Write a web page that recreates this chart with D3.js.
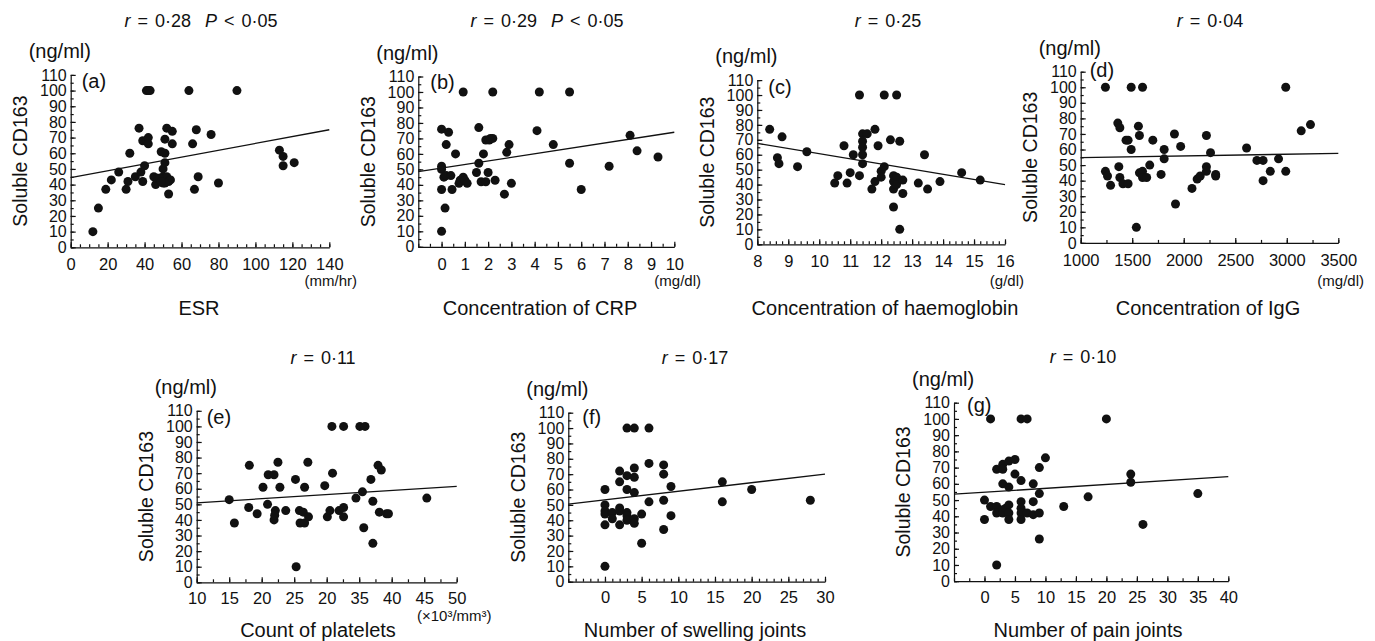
<!DOCTYPE html>
<html>
<head>
<meta charset="utf-8">
<script src="https://cdn.jsdelivr.net/npm/d3@7"></script>
<style>
  body { margin: 0; background: #fff; }
  svg { display: block; }
</style>
</head>
<body>
<svg id="chart" width="1375" height="641"></svg>
<script>
// Soluble CD163 (ng/ml) against clinical values, one scatter per panel

const esrX = [12,15,19,22,26,30,31,32,35,37,38,39,39,40,41,42,42,41,42,43,45,46,47,49,50,50,50,51,51,51,52,52,53,53,54,55,55,64,66,67,68,69,76,80,90,113,115,115,121,48,51,49];
const esrY = [10,25,37,43,48,37,42,60,45,76,48,68,42,52,68,70,66,100,100,100,45,40,44,61,50,45,41,69,60,54,45,76,42,34,43,74,66,100,66,37,75,45,72,41,100,62,58,52,54,44,41,42];

const crpX = [0,0,0,0,0,0.1,0.15,0.2,0.3,0.2,0.4,0.45,0.6,0.75,0.8,0.93,0.93,1.0,1.1,1.5,1.6,1.6,1.7,1.8,1.9,1.9,2.0,2.05,2.1,2.2,2.2,2.3,2.7,2.8,2.9,3.0,4.1,4.2,4.8,5.5,5.5,6.0,7.2,8.1,8.4,9.3];
const crpY = [10,52,50,37,76,45,25,66,74,46,46,37,60,41,43,100,45,43,41,48,54,77,42,60,42,69,48,69,70,70,100,43,34,61,66,41,75,100,66,100,54,37,52,72,62,58];

const hbX = [8.4,8.65,8.7,8.8,9.3,9.6,10.5,10.6,10.8,10.9,11.0,11.1,11.3,11.3,11.4,11.4,11.4,11.4,11.4,11.55,11.7,11.8,11.8,11.9,12.0,12.0,12.1,12.1,12.3,12.4,12.4,12.4,12.4,12.5,12.5,12.5,12.6,12.6,12.7,12.7,13.2,13.4,13.5,13.9,14.6,15.2];
const hbY = [77,58,54,72,52,62,41,46,66,41,48,60,100,46,74,69,65,60,54,74,37,77,42,66,49,45,52,100,70,46,42,37,25,100,45,40,69,10,34,43,41,60,37,42,48,43];

const iggX = [1240,1240,1260,1290,1360,1370,1380,1380,1410,1440,1460,1460,1490,1490,1560,1570,1570,1540,1600,1600,1600,1640,1670,1700,1780,1810,1810,1910,1920,1970,2080,2130,2160,2220,2220,2220,2260,2310,2310,2610,2710,2770,2770,2840,2920,2990,2990,3140,3230];
const iggY = [100,46,43,37,77,49,74,42,38,66,66,38,100,60,75,69,45,10,100,46,42,42,50,66,44,60,54,70,25,62,35,41,43,69,49,46,58,44,43,61,53,53,40,46,54,100,46,72,76];

const pltX = [15,15.8,18.1,18,19.3,20.2,20.9,21,21.9,22.1,21.9,22,22.5,22.8,23.7,25.2,25.8,25.9,26.4,26.6,26.6,27.1,27.2,29.7,30.1,30.5,30.9,31.9,32.6,32.6,34.5,35.5,35.7,36.8,37.1,37.9,38.4,38.1,39.2,39.5,45.4,30.8,32.6,35.1,35.9,25.3,37.1];
const pltY = [53,38,75,48,44,61,50,69,69,46,40,43,77,61,46,66,46,38,45,61,38,77,42,62,42,46,70,46,48,42,54,58,35,66,52,75,72,45,44,44,54,100,100,100,100,10,25];

const swX = [0,0,0,0,0,0,1,1,2,2,2,2,2,3,3,3,3,3,3,4,4,4,4,4,4,5,5,6,6,6,8,8,8,8,9,9,16,16,20,28];
const swY = [10,60,50,46,44,37,45,41,72,65,48,46,37,100,69,60,45,43,40,100,74,68,58,41,38,44,25,100,77,52,76,70,53,34,62,43,65,52,60,53];

const painX = [0,0,1,1,2,2,2,2,3,3,3,3,3,3.5,4,4,4,4,4,5,5,6,6,6,6,6,6,7,7,8,8,8,9,9,9,9,10,13,17,20,24,24,26,35];
const painY = [50,38,100,46,69,46,42,10,72,69,60,44,42,45,74,58,47,42,38,75,66,100,62,49,45,42,38,100,42,60,49,41,70,54,42,26,76,46,52,100,66,61,35,54];

// regression line end points [x, y]
const esrFit = [[0,44.5],[140,75]];
const crpFit = [[-1,48.5],[10,74]];
const hbFit = [[8,67.6],[16,40]];
const iggFit = [[1000,54.8],[3500,57.5]];
const pltFit = [[10,51],[50,61.5]];
const swFit = [[-5,50.5],[30,70]];
const painFit = [[-5,53.6],[40,64.5]];

// tick labels
const yTicks = [0,10,20,30,40,50,60,70,80,90,100,110];
const esrTicks = [0,20,40,60,80,100,120,140];
const crpTicks = [0,1,2,3,4,5,6,7,8,9,10];
const hbTicks = [8,9,10,11,12,13,14,15,16];
const iggTicks = [1000,1500,2000,2500,3000,3500];
const pltTicks = [10,15,20,25,30,35,40,45,50];
const pltTickLabels = ["10","15","20","25","20","35","40","45","50"];
const swTicks = [0,5,10,15,20,25,30];
const painTicks = [0,5,10,15,20,25,30,35,40];

const letters = ["(a)","(b)","(c)","(d)","(e)","(f)","(g)"];
const rValues = ["0·28","0·29","0·25","0·04","0·11","0·17","0·10"];
const pValues = ["0·05","0·05",null,null,null,null,null];
const xTitles = ["ESR","Concentration of CRP","Concentration of haemoglobin","Concentration of IgG",
                 "Count of platelets","Number of swelling joints","Number of pain joints"];
const xUnits = ["(mm/hr)","(mg/dl)","(g/dl)","(mg/dl)","(×10³/mm³)",null,null];

const panels = [
  { x: esrX, y: esrY, fit: esrFit, ticks: esrTicks },
  { x: crpX, y: crpY, fit: crpFit, ticks: crpTicks },
  { x: hbX, y: hbY, fit: hbFit, ticks: hbTicks },
  { x: iggX, y: iggY, fit: iggFit, ticks: iggTicks },
  { x: pltX, y: pltY, fit: pltFit, ticks: pltTicks, labels: pltTickLabels },
  { x: swX, y: swY, fit: swFit, ticks: swTicks },
  { x: painX, y: painY, fit: painFit, ticks: painTicks }
];

// where each panel sits on the page
const layout = [
  { left: 70.7, right: 329.3, top: 74.9, bottom: 247.3, domain: [0,140], minor: 5,
    titleX: 201, titleY: 21, letterDx: 11, letterDy: 6, axisTitleX: 199, axisTitleY: 308, unitX: 357, unitY: 281, unitAnchor: "end" },
  { left: 418.3, right: 674.3, top: 76.5, bottom: 246.8, domain: [-1,10], minor: 0.5,
    titleX: 547, titleY: 21, letterDx: 12, letterDy: 5.5, axisTitleX: 540, axisTitleY: 308, unitX: 701, unitY: 281, unitAnchor: "end" },
  { left: 757.3, right: 1005, top: 80.1, bottom: 244.3, domain: [8,16], minor: 0.2,
    titleX: 888, titleY: 21, letterDx: 11, letterDy: 7, axisTitleX: 885, axisTitleY: 308, unitX: 1024, unitY: 281, unitAnchor: "end" },
  { left: 1080.7, right: 1338.3, top: 71.7, bottom: 242.9, domain: [1000,3500], minor: 250,
    titleX: 1210, titleY: 21, letterDx: 9, letterDy: -2, axisTitleX: 1208, axisTitleY: 308, unitX: 1364, unitY: 281, unitAnchor: "end" },
  { left: 196.7, right: 456.7, top: 410.8, bottom: 582.3, domain: [10,50], minor: 2.5,
    titleX: 323, titleY: 358, letterDx: 10, letterDy: 6, axisTitleX: 318, axisTitleY: 630, unitX: 417, unitY: 616, unitAnchor: "start" },
  { left: 568.3, right: 825, top: 412.7, bottom: 581.7, domain: [-5,30], minor: 1,
    titleX: 695, titleY: 358, letterDx: 14, letterDy: 4, axisTitleX: 695, axisTitleY: 630 },
  { left: 954, right: 1228.3, top: 402.7, bottom: 581.2, domain: [-5,40], minor: 2.5,
    titleX: 1083, titleY: 357, letterDx: 13, letterDy: 2, axisTitleX: 1088, axisTitleY: 630 }
];

const font = "'Liberation Sans', Arial, Helvetica, sans-serif";
const svg = d3.select("#chart").attr("font-family", font);

function styleAxis(sel, size) {
    sel.attr("font-family", font).attr("font-size", size);
    sel.selectAll("line, path").attr("stroke", "#111").attr("stroke-width", 1.2);
    sel.selectAll("text").attr("fill", "#111");
}

panels.forEach((p, i) => {
    const L = layout[i];
    const x = d3.scaleLinear().domain(L.domain).range([L.left, L.right]);
    const y = d3.scaleLinear().domain([0, 110]).range([L.bottom, L.top]);
    const g = svg.append("g");

    // minor ticks, pointing into the plot
    const minorX = d3.range(L.domain[0], L.domain[1] + L.minor / 2, L.minor);
    g.append("g")
        .attr("transform", `translate(0,${L.bottom})`)
        .call(d3.axisBottom(x).tickValues(minorX).tickSizeInner(-3).tickSizeOuter(0).tickFormat(""))
        .call(a => a.select(".domain").remove())
        .call(a => styleAxis(a, 16));

    g.append("g")
        .attr("transform", `translate(${L.left},0)`)
        .call(d3.axisLeft(y).tickValues(d3.range(0, 111, 5)).tickSizeInner(-3).tickSizeOuter(0).tickFormat(""))
        .call(a => a.select(".domain").remove())
        .call(a => styleAxis(a, 16));

    // major ticks and labels
    g.append("g")
        .attr("transform", `translate(0,${L.bottom})`)
        .call(d3.axisBottom(x).tickValues(p.ticks).tickSizeInner(-5).tickSizeOuter(0).tickPadding(i < 4 ? 11 : 10)
            .tickFormat((d, k) => p.labels ? p.labels[k] : d))
        .call(a => styleAxis(a, 16.5));

    g.append("g")
        .attr("transform", `translate(${L.left},0)`)
        .call(d3.axisLeft(y).tickValues(yTicks).tickSizeInner(-5).tickSizeOuter(0).tickPadding(4))
        .call(a => styleAxis(a, 16));

    // regression line
    g.append("path")
        .attr("d", d3.line().x(d => x(d[0])).y(d => y(d[1]))(p.fit))
        .attr("fill", "none")
        .attr("stroke", "#111")
        .attr("stroke-width", 1.3);

    g.selectAll("circle")
        .data(d3.zip(p.x, p.y))
        .join("circle")
        .attr("cx", d => x(d[0]))
        .attr("cy", d => y(d[1]))
        .attr("r", 4.5)
        .attr("fill", "#111");

    // title: r = ..., P < ...
    const title = g.append("text")
        .attr("x", L.titleX)
        .attr("y", L.titleY)
        .attr("dy", "0.35em")
        .attr("text-anchor", "middle")
        .style("font-size", "18px")
        .style("word-spacing", "2px")
        .style("white-space", "pre")
        .attr("fill", "#111");
    title.append("tspan").style("font-style", "italic").text("r");
    title.append("tspan").text(` = ${rValues[i]}`);
    if (pValues[i]) {
        title.append("tspan").style("font-style", "italic").text("  P");
        title.append("tspan").text(` < ${pValues[i]}`);
    }

    g.append("text")
        .attr("x", L.left - 42)
        .attr("y", L.top - 24)
        .attr("dy", "0.35em")
        .style("font-size", "20px")
        .attr("fill", "#111")
        .text("(ng/ml)");

    g.append("text")
        .attr("transform", `translate(${L.left - 50.5},${(L.top + L.bottom) / 2}) rotate(-90)`)
        .attr("dy", "0.35em")
        .attr("text-anchor", "middle")
        .style("font-size", "19.5px")
        .attr("fill", "#111")
        .text("Soluble CD163");

    g.append("text")
        .attr("x", L.left + L.letterDx)
        .attr("y", L.top + L.letterDy)
        .attr("dy", "0.35em")
        .style("font-size", "20px")
        .attr("fill", "#111")
        .text(letters[i]);

    g.append("text")
        .attr("x", L.axisTitleX)
        .attr("y", L.axisTitleY)
        .attr("dy", "0.35em")
        .attr("text-anchor", "middle")
        .style("font-size", "20px")
        .attr("fill", "#111")
        .text(xTitles[i]);

    if (xUnits[i]) {
        g.append("text")
            .attr("x", L.unitX)
            .attr("y", L.unitY)
            .attr("dy", "0.35em")
            .attr("text-anchor", L.unitAnchor)
            .style("font-size", "15px")
            .attr("fill", "#111")
            .text(xUnits[i]);
    }
});
</script>
</body>
</html>
